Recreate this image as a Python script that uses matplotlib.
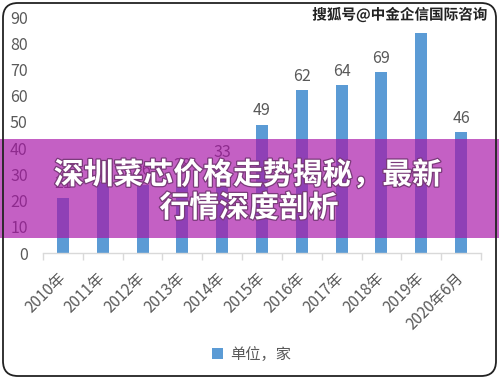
import matplotlib
matplotlib.use("Agg")
import matplotlib.pyplot as plt
from matplotlib.patches import Rectangle, FancyBboxPatch
import matplotlib.patheffects as pe

plt.rcParams['font.family'] = ['Noto Sans CJK SC', 'DejaVu Sans']

categories = ["2010年", "2011年", "2012年", "2013年", "2014年", "2015年",
              "2016年", "2017年", "2018年", "2019年", "2020年6月"]
values = [21, 27, 26, 28, 33, 49, 62, 64, 69, 84, 46]
yticks = [0, 10, 20, 30, 40, 50, 60, 70, 80, 90]
legend_label = "单位，家"
title_lines = ["深圳菜芯价格走势揭秘，最新", "行情深度剖析"]
watermark = "搜狐号@中金企信国际咨询"

W, H = 499, 379
fig = plt.figure(figsize=(W / 100, H / 100), dpi=100)
fig.patch.set_facecolor('white')

ax = fig.add_axes([43 / W, 1 - 253 / H, (481 - 43) / W, (253 - 17) / H])
x = list(range(len(categories)))
bars = ax.bar(x, values, width=0.3, color='#5B9BD5', label=legend_label, zorder=2)
for xi, v in zip(x, values):
    ax.annotate(str(v), (xi, v), xytext=(0, 4), textcoords='offset points',
                ha='center', va='bottom', fontsize=11.5, color='#595959')

ax.set_xlim(-0.5, len(categories) - 0.5)
ax.set_ylim(0, 90)
ax.set_yticks(yticks)
ax.set_yticklabels([str(t) for t in yticks], fontsize=11.5, color='#595959')
ax.tick_params(axis='y', length=0, pad=11)
for s in ['top', 'right', 'left']:
    ax.spines[s].set_visible(False)
ax.spines['bottom'].set_color('#D9D9D9')
ax.spines['bottom'].set_linewidth(1)
ax.set_xticks(x)
ax.set_xticklabels(categories, rotation=45, ha='right', va='center',
                   rotation_mode='anchor', fontsize=11, color='#595959')
for lab in ax.get_xticklabels():
    lab.set_x(lab.get_position()[0])
ax.tick_params(axis='x', which='major', length=0, pad=16)
ax.set_xticks([i - 0.5 for i in range(len(categories) + 1)], minor=True)
ax.tick_params(axis='x', which='minor', length=5, color='#D9D9D9', width=1)

leg = fig.legend(handles=[bars], labels=[legend_label], loc='center',
                 bbox_to_anchor=(252 / W, 1 - 354 / H), frameon=False,
                 fontsize=11, handlelength=0.7, handleheight=0.7, handletextpad=0.5)
for t in leg.get_texts():
    t.set_color('#595959')

# semi-transparent banner
fig.patches.append(Rectangle((0, 1 - 238 / H), 1, 99 / H, transform=fig.transFigure,
                             facecolor='#A815A8', alpha=0.68, edgecolor='none', zorder=10))
for txt, yc, xc in [(title_lines[0], 175, 248), (title_lines[1], 208, 249)]:
    fig.text(xc / W, 1 - yc / H, txt, ha='center', va='center', fontsize=21.5,
             fontweight='bold', color='white', zorder=11,
             path_effects=[pe.withStroke(linewidth=1.8, foreground='#7a3a7a')])

# watermark
fig.text(400 / W, 1 - 15 / H, watermark, ha='center', va='center', fontsize=10.5,
         fontweight='bold', color='#222222', zorder=12,
         bbox=dict(facecolor='white', edgecolor='none', pad=2),
         path_effects=[pe.withStroke(linewidth=1.5, foreground='white')])

# rounded frame
fig.patches.append(FancyBboxPatch((3 / W, 3 / H), 1 - 6 / W, 1 - 6 / H,
                                  boxstyle='round,pad=0,rounding_size=0.03',
                                  mutation_aspect=W / H,
                                  transform=fig.transFigure, fill=False,
                                  edgecolor='#222222', linewidth=1.3, zorder=13))

fig.savefig('out.png', dpi=100)
